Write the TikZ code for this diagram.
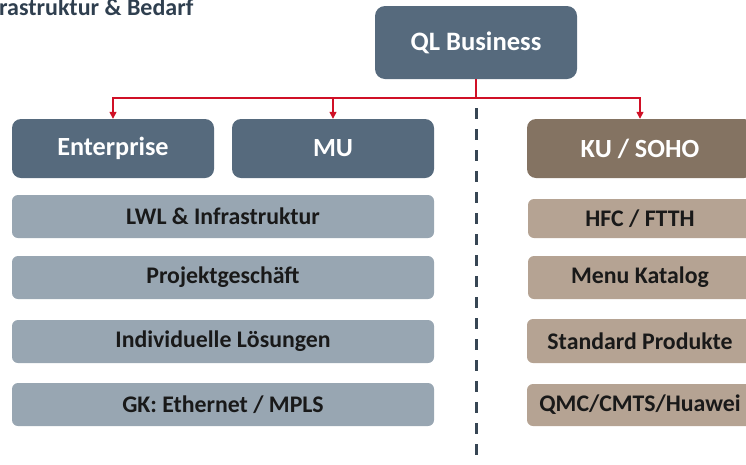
\documentclass[tikz,border=0pt]{standalone}
\usepackage{fontspec}
\setmainfont{Carlito}
\usetikzlibrary{arrows.meta}
\definecolor{slate}{RGB}{86,106,125}
\definecolor{greybar}{RGB}{152,166,178}
\definecolor{browndark}{RGB}{132,115,98}
\definecolor{brownlight}{RGB}{181,163,147}
\definecolor{redline}{RGB}{208,16,38}
\definecolor{titlecol}{RGB}{47,63,79}
\definecolor{dashcol}{RGB}{55,70,84}
\tikzset{
  topbox/.style={fill=slate, rounded corners=10pt, text=white, font=\fontsize{26.6}{30}\selectfont\bfseries, minimum width=202pt, minimum height=73pt, inner sep=0pt},
  lvlbox/.style={rounded corners=9pt, text=white, font=\fontsize{26.2}{30}\selectfont\bfseries, minimum height=59pt, inner sep=0pt},
  barbox/.style={rounded corners=6pt, text=black!90, font=\fontsize{23.8}{27}\selectfont\bfseries, minimum height=43pt, inner sep=0pt},
  conn/.style={draw=redline, line width=1.3pt, -{Triangle[length=7pt,width=7pt]}},
  sep/.style={draw=dashcol, line width=3pt, dash pattern=on 11pt off 10pt}
}
\begin{document}
\begin{tikzpicture}[x=1pt,y=-1pt]
\useasboundingbox (0,0) rectangle (746,464);
\clip (0,0) rectangle (746,464);
% title (cut at left edge)
\node[anchor=base west, inner sep=0pt, text=titlecol, font=\fontsize{24}{28}\selectfont\bfseries] (title) at (-1,15) {rastruktur \& Bedarf};
% top
\node[topbox] (ql) at (476,42.5) {QL Business};
% level 1
\node[lvlbox, fill=slate, minimum width=202pt] (ent) at (113,148.5) {Enterprise};
\node[lvlbox, fill=slate, minimum width=202pt] (mu) at (333,148.5) {MU};
\node[lvlbox, fill=browndark, minimum width=226pt] (ku) at (640,148.5) {KU / SOHO};
% grey bars
\node[barbox, fill=greybar, minimum width=422pt] (b1) at (223,216.5) {LWL \& Infrastruktur};
\node[barbox, fill=greybar, minimum width=422pt] (b2) at (223,277.5) {Projektgeschäft};
\node[barbox, fill=greybar, minimum width=422pt] (b3) at (223,341.5) {Individuelle Lösungen};
\node[barbox, fill=greybar, minimum width=422pt] (b4) at (223,404.5) {GK: Ethernet / MPLS};
% brown bars
\node[barbox, fill=brownlight, minimum width=224pt, minimum height=39pt] (r1) at (640,218.5) {HFC / FTTH};
\node[barbox, fill=brownlight, minimum width=224pt] (r2) at (640,277.5) {Menu Katalog};
\node[barbox, fill=brownlight, minimum width=226pt, minimum height=44pt] (r3) at (640,341) {Standard Produkte};
\node[barbox, fill=brownlight, minimum width=226pt, minimum height=42pt] (r4) at (640,405) {QMC/CMTS/Huawei};
% connectors
\coordinate (j) at (476,98);
\draw[draw=redline, line width=1.3pt] (ql.south) -- (j);
\draw[conn] (j) -| (ent.north);
\draw[conn] (j) -| (mu.north);
\draw[conn] (j) -| (ku.north);
% dashed separator
\coordinate (d1) at (476,108);
\coordinate (d2) at (476,470);
\draw[sep] (d1) -- (d2);
\end{tikzpicture}
\end{document}
